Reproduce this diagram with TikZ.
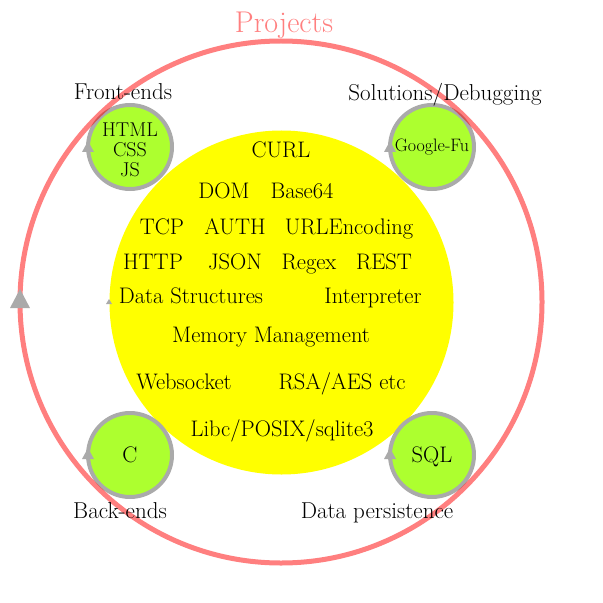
\documentclass[tikz,border=0pt]{standalone}
\usepackage{fontspec}
\definecolor{greenc}{HTML}{ADFF2F}
\definecolor{graycol}{HTML}{AAAAAA}
\definecolor{projcol}{HTML}{FF7F7F}
\definecolor{coreyellow}{HTML}{FFFF00}
\begin{document}
\begin{tikzpicture}[x=1bp,y=-1bp,
  txt/.style={font=\fontsize{22.5bp}{22.5bp}\selectfont, inner sep=0pt, anchor=base},
  lab/.style={font=\fontsize{23bp}{23bp}\selectfont, inner sep=0pt, anchor=base},
  topic/.style={circle, draw=graycol, line width=4bp, fill=greenc, minimum size=84bp, inner sep=0pt},
  tiparrow/.style={fill=graycol}]
\useasboundingbox (0,0) rectangle (603,603);
% core circle
\node[circle, fill=coreyellow, minimum size=344bp, inner sep=0pt] (core) at (281.5,302.5) {};
\fill[tiparrow] (109,299) -- (112,304) -- (106,304) -- cycle;
% topic circles
\node[topic] (fe) at (130,147) {};
\node[topic] (sd) at (432,147) {};
\node[topic] (be) at (130,455) {};
\node[topic] (dp) at (432,455) {};
% projects ring
\draw[red, opacity=0.5, line width=5bp] (281,302) circle[radius=261];
% arrow tips
\fill[tiparrow] (20,289) -- (30,308) -- (10,308) -- cycle;
\fill[tiparrow] (88,141) -- (94,152) -- (82,152) -- cycle;
\fill[tiparrow] (390,141) -- (396,152) -- (384,152) -- cycle;
\fill[tiparrow] (88,448) -- (94,459) -- (82,459) -- cycle;
\fill[tiparrow] (390,448) -- (396,459) -- (384,459) -- cycle;
% topic texts
\node[font=\fontsize{20bp}{20bp}\selectfont, inner sep=0pt, align=center] (fetext) at (130,150) {HTML\\CSS\\JS};
\node[txt, font=\fontsize{18bp}{18bp}\selectfont] (sdtext) at (432,152) {Google-Fu};
\node[txt] (betext) at (130,462) {C};
\node[txt] (dptext) at (432,462) {SQL};
% labels
\node[lab, text=projcol, font=\fontsize{30bp}{30bp}\selectfont] (proj) at (284,33) {Projects};
\node[lab] (felab) at (123,100) {Front-ends};
\node[lab] (sdlab) at (445,101) {Solutions/Debugging};
\node[lab] (belab) at (120,518) {Back-ends};
\node[lab] (dplab) at (377,518) {Data persistence};
% core texts
\node[txt] (curl) at (281,158) {CURL};
\node[txt] (dom) at (224,198) {DOM};
\node[txt] (b64) at (302,198) {Base64};
\node[txt] (tcp) at (162,234) {TCP};
\node[txt] (auth) at (235,234) {AUTH};
\node[txt] (urle) at (349,234) {URLEncoding};
\node[txt] (http) at (153,269) {HTTP};
\node[txt] (json) at (235,269) {JSON};
\node[txt] (regex) at (309,269) {Regex};
\node[txt] (rest) at (384,269) {REST};
\node[txt] (ds) at (191,303) {Data Structures};
\node[txt] (interp) at (373,303) {Interpreter};
\node[txt] (mem) at (271,342) {Memory Management};
\node[txt] (ws) at (184,389) {Websocket};
\node[txt] (rsa) at (342,389) {RSA/AES etc};
\node[txt] (libc) at (282,436) {Libc/POSIX/sqlite3};
\end{tikzpicture}
\end{document}
